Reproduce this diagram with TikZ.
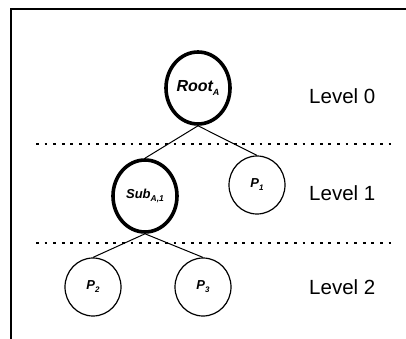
\documentclass[tikz,border=0pt]{standalone}
\usepackage{fontspec}
\setmainfont{Liberation Sans}
\usetikzlibrary{shapes.geometric}
\begin{document}
\begin{tikzpicture}[x=1pt,y=-1pt,
  every node/.style={font=\fontsize{20}{24}\selectfont},
  treenode/.style={ellipse, draw, inner sep=0pt, line width=1.2pt,
    minimum width=56pt, minimum height=58pt,
    font=\fontsize{13}{15}\selectfont\bfseries\itshape},
  heavynode/.style={treenode, line width=3.6pt,
    minimum width=64pt, minimum height=72pt},
  edge/.style={line width=1pt},
  levelline/.style={line width=2.6pt, dash pattern=on 2.8pt off 5.8pt},
  frameline/.style={line width=2pt},
  levellabel/.style={anchor=west, inner sep=0pt,
    font=\fontsize{20.5}{24}\selectfont}]
\useasboundingbox (0,0) rectangle (406,339);

% open frame: left and top sides
\draw[frameline] (11,339) -- (11,9.5) -- (406,9.5);

% level separators
\coordinate (sepA0) at (36,144);
\coordinate (sepA1) at (392,144);
\coordinate (sepB0) at (36,243);
\coordinate (sepB1) at (392,243);
\draw[levelline] (sepA0) -- (sepA1);
\draw[levelline] (sepB0) -- (sepB1);

% tree nodes
\node[heavynode, font=\fontsize{16}{18}\selectfont\bfseries\itshape] (root) at (198,88)
  {Root\raisebox{-3.5pt}{\fontsize{9}{9}\selectfont A}};
\node[heavynode] (sub) at (145,196)
  {Sub\raisebox{-3.5pt}{\fontsize{8.5}{9}\selectfont A,1}};
\node[treenode] (p1) at (257,185)
  {P\raisebox{-3pt}{\fontsize{8}{8}\selectfont 1}};
\node[treenode] (p2) at (93,287)
  {P\raisebox{-3pt}{\fontsize{8}{8}\selectfont 2}};
\node[treenode] (p3) at (203,287)
  {P\raisebox{-3pt}{\fontsize{8}{8}\selectfont 3}};

% connectors
\draw[edge] (root.south) -- (sub.north);
\draw[edge] (root.south) -- (p1.north);
\draw[edge] (sub.south) -- (p2.north);
\draw[edge] (sub.south) -- (p3.north);

% level labels
\node[levellabel] (lv0) at (309,96) {Level 0};
\node[levellabel] (lv1) at (309,193) {Level 1};
\node[levellabel] (lv2) at (309,287) {Level 2};
\end{tikzpicture}
\end{document}
